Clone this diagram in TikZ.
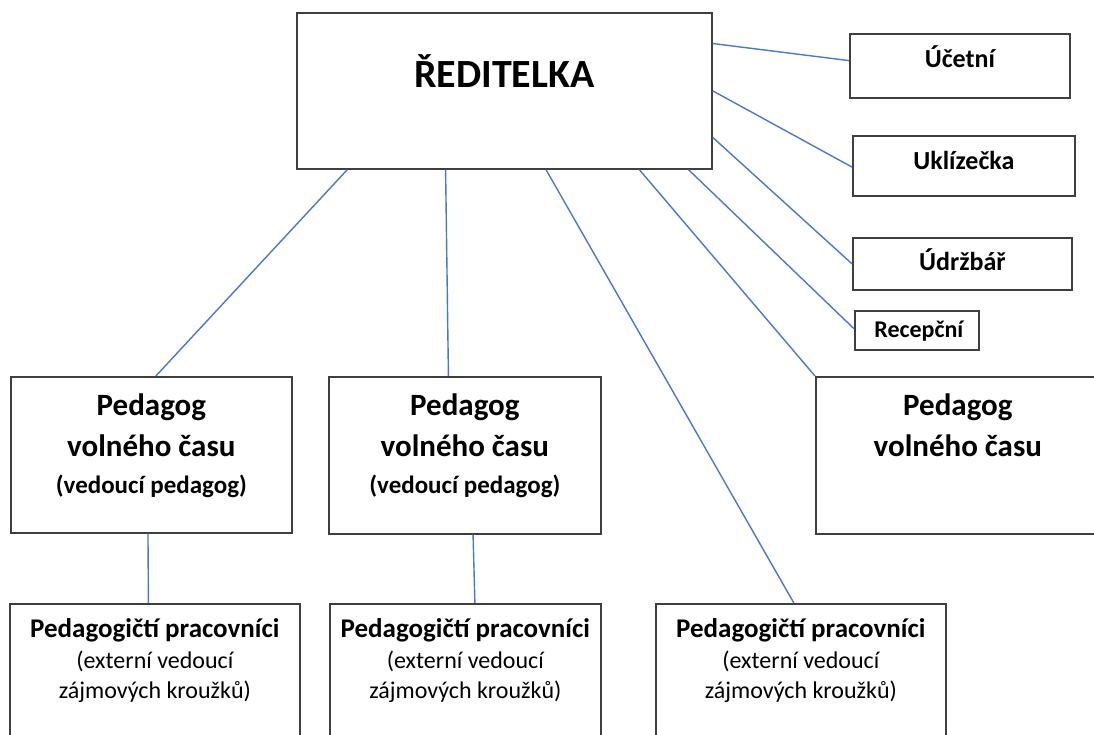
\documentclass[tikz,border=0pt]{standalone}
\usepackage{fontspec}
\setmainfont{Carlito}
\usetikzlibrary{calc}

\definecolor{linkblue}{HTML}{4A78CC}
\definecolor{framegray}{HTML}{3F3F3F}
\def\LINECOLOR{linkblue}
\def\FRAMECOLOR{framegray}

\tikzset{
	orgbox/.style={draw=\FRAMECOLOR, line width=1.7, rectangle, inner sep=0, anchor=north west},
	orgline/.style={draw=\LINECOLOR, line width=1.4},
	orgtext/.style={anchor=base, inner sep=0, text=black},
	titletext/.style={orgtext, font=\fontsize{40}{48}\selectfont\bfseries},
	sidetext/.style={orgtext, font=\fontsize{26}{31}\selectfont\bfseries},
	smalltext/.style={orgtext, font=\fontsize{24}{29}\selectfont\bfseries},
	pedtext/.style={orgtext, font=\fontsize{31}{37}\selectfont\bfseries},
	subtext/.style={orgtext, font=\fontsize{25}{30}\selectfont\bfseries},
	practext/.style={orgtext, font=\fontsize{27}{32}\selectfont\bfseries},
	notetext/.style={orgtext, font=\fontsize{24}{29}\selectfont},
}

\begin{document}
\begin{tikzpicture}[x=1pt,y=-1pt]

	\useasboundingbox (0,0) rectangle (1094,735);
	\clip (0,0) rectangle (1094,735);

	% boxes
	\node[orgbox, minimum width=415, minimum height=156] (red) at (296,12) {};
	\node[orgbox, minimum width=220, minimum height=64] (ucet) at (849,33) {};
	\node[orgbox, minimum width=222, minimum height=60] (ukl) at (852,135) {};
	\node[orgbox, minimum width=219, minimum height=52] (udr) at (852,237) {};
	\node[orgbox, minimum width=124, minimum height=39] (rec) at (854,310) {};
	\node[orgbox, minimum width=281, minimum height=156] (ped1) at (10,376) {};
	\node[orgbox, minimum width=272, minimum height=157] (ped2) at (328,376) {};
	\node[orgbox, minimum width=284, minimum height=157] (ped3) at (815,376) {};
	\node[orgbox, minimum width=290, minimum height=160] (prac1) at (9,603) {};
	\node[orgbox, minimum width=271, minimum height=160] (prac2) at (329,603) {};
	\node[orgbox, minimum width=290, minimum height=160] (prac3) at (655,603) {};

	% texts
	\node[titletext] (redt) at ([yshift=-76]red.north) {ŘEDITELKA};
	\node[sidetext] (ucett) at ([yshift=-35]ucet.north) {Účetní};
	\node[sidetext] (uklt) at ([yshift=-35]ukl.north) {Uklízečka};
	\node[sidetext] (udrt) at ([yshift=-33]udr.north) {Údržbář};
	\node[smalltext] (rect) at ([xshift=2,yshift=-27]rec.north) {Recepční};

	\node[pedtext] (ped1a) at ([yshift=-39]ped1.north) {Pedagog};
	\node[pedtext] (ped1b) at ([yshift=-80]ped1.north) {volného času};
	\node[subtext] (ped1c) at ([yshift=-117]ped1.north) {(vedoucí pedagog)};
	\node[pedtext] (ped2a) at ([yshift=-39]ped2.north) {Pedagog};
	\node[pedtext] (ped2b) at ([yshift=-80]ped2.north) {volného času};
	\node[subtext] (ped2c) at ([yshift=-117]ped2.north) {(vedoucí pedagog)};
	\node[pedtext] (ped3a) at ([yshift=-39]ped3.north) {Pedagog};
	\node[pedtext] (ped3b) at ([yshift=-80]ped3.north) {volného času};

	\node[practext] (prac1a) at ([yshift=-34]prac1.north) {Pedagogičtí pracovníci};
	\node[notetext] (prac1b) at ([yshift=-65]prac1.north) {(externí vedoucí};
	\node[notetext] (prac1c) at ([yshift=-95]prac1.north) {zájmových kroužků)};
	\node[practext] (prac2a) at ([yshift=-34]prac2.north) {Pedagogičtí pracovníci};
	\node[notetext] (prac2b) at ([yshift=-65]prac2.north) {(externí vedoucí};
	\node[notetext] (prac2c) at ([yshift=-95]prac2.north) {zájmových kroužků)};
	\node[practext] (prac3a) at ([yshift=-34]prac3.north) {Pedagogičtí pracovníci};
	\node[notetext] (prac3b) at ([yshift=-65]prac3.north) {(externí vedoucí};
	\node[notetext] (prac3c) at ([yshift=-95]prac3.north) {zájmových kroužků)};

	% connectors
	\draw[orgline] ($(red.north east)!.2!(red.south east)$) -- ($(ucet.north west)!.42!(ucet.south west)$);
	\draw[orgline] ($(red.north east)!.5!(red.south east)$) -- ($(ukl.north west)!.52!(ukl.south west)$);
	\draw[orgline] ($(red.north east)!.795!(red.south east)$) -- (udr.west);
	\draw[orgline] ($(red.south west)!.942!(red.south east)$) -- ($(rec.north west)!.46!(rec.south west)$);
	\draw[orgline] ($(red.south west)!.824!(red.south east)$) -- (ped3.north west);
	\draw[orgline] ($(red.south west)!.6!(red.south east)$) -- ($(prac3.north west)!.476!(prac3.north east)$);
	\draw[orgline] ($(red.south west)!.359!(red.south east)$) -- ($(ped2.north west)!.44!(ped2.north east)$);
	\draw[orgline] ($(red.south west)!.123!(red.south east)$) -- ($(ped1.north west)!.516!(ped1.north east)$);
	\draw[orgline] ($(ped1.south west)!.488!(ped1.south east)$) -- ($(prac1.north west)!.478!(prac1.north east)$);
	\draw[orgline] ($(ped2.south west)!.53!(ped2.south east)$) -- ($(prac2.north west)!.535!(prac2.north east)$);

\end{tikzpicture}
\end{document}
